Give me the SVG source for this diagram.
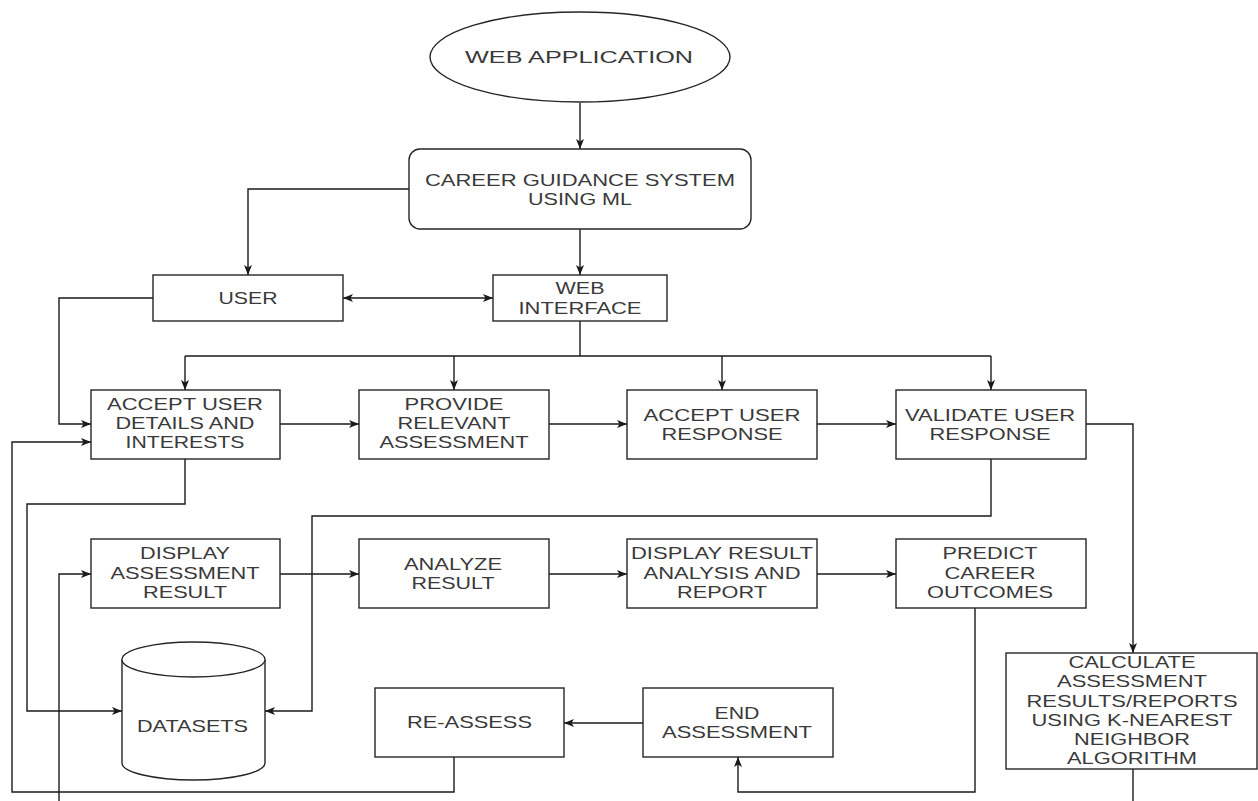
<svg xmlns="http://www.w3.org/2000/svg" width="1258" height="801" viewBox="0 0 1258 801">
<style>
.box{fill:#fff;stroke:#262626;stroke-width:1.4}
.t{font-family:"Liberation Sans",Arial,sans-serif;font-size:17px;fill:#3a3a3a;text-anchor:middle}
.c{fill:none;stroke:#1a1a1a;stroke-width:1.4}
.a{marker-end:url(#arr)}
</style>
<defs>
<marker id="arr" viewBox="0 0 10 8" refX="10" refY="4" markerWidth="10" markerHeight="8" markerUnits="userSpaceOnUse" orient="auto-start-reverse">
<path d="M0,0 L10,4 L0,8 L2.5,4 Z" fill="#1a1a1a"/>
</marker>
</defs>
<rect width="1258" height="801" fill="#fff"/>
<g id="connectors">
<path class="c a" d="M580,103 V149"/>
<path class="c a" d="M409,189 H248 V275"/>
<path class="c a" d="M580,229 V275"/>
<path class="c a" d="M343,298 H493" marker-start="url(#arr)"/>
<path class="c a" d="M153,298 H59 V424 H91"/>
<path class="c" d="M580,321 V356 M185,356 H991"/>
<path class="c a" d="M185,356 V390"/>
<path class="c a" d="M454,356 V390"/>
<path class="c a" d="M722,356 V390"/>
<path class="c a" d="M991,356 V390"/>
<path class="c a" d="M280,424 H359"/>
<path class="c a" d="M549,424 H627"/>
<path class="c a" d="M817,424 H896"/>
<path class="c a" d="M1086,424 H1133 V653"/>
<path class="c" d="M1133,769 V801"/>
<path class="c a" d="M991,459 V516 H312 V711 H265"/>
<path class="c a" d="M185,459 V504 H27 V711 H122"/>
<path class="c a" d="M454,757 V792 H12 V442 H91"/>
<path class="c a" d="M59,801 V574 H91"/>
<path class="c a" d="M280,574 H359"/>
<path class="c a" d="M549,574 H627"/>
<path class="c a" d="M817,574 H896"/>
<path class="c a" d="M975,608 V792 H738 V757"/>
<path class="c a" d="M643,723 H564"/>
</g>
<g id="web-application">
<ellipse class="box" cx="580" cy="57" rx="150" ry="45"/>
<text class="t" x="579" y="63" textLength="228" lengthAdjust="spacingAndGlyphs" font-size="18">WEB APPLICATION</text>
</g>
<g id="career-guidance">
<rect class="box" x="409" y="149" width="342" height="80" rx="11"/>
<text class="t" x="580" y="186" textLength="310" lengthAdjust="spacingAndGlyphs">CAREER GUIDANCE SYSTEM</text>
<text class="t" x="580" y="205" textLength="104" lengthAdjust="spacingAndGlyphs">USING ML</text>
</g>
<g id="user">
<rect class="box" x="153" y="275" width="190" height="46"/>
<text class="t" x="248" y="304" textLength="59" lengthAdjust="spacingAndGlyphs">USER</text>
</g>
<g id="web-interface">
<rect class="box" x="493" y="275" width="174" height="46"/>
<text class="t" x="580" y="294" textLength="49" lengthAdjust="spacingAndGlyphs">WEB</text>
<text class="t" x="580" y="314" textLength="123" lengthAdjust="spacingAndGlyphs">INTERFACE</text>
</g>
<g id="accept-details">
<rect class="box" x="91" y="390" width="189" height="69"/>
<text class="t" x="185" y="410" textLength="156" lengthAdjust="spacingAndGlyphs">ACCEPT USER</text>
<text class="t" x="185" y="429" textLength="139" lengthAdjust="spacingAndGlyphs">DETAILS AND</text>
<text class="t" x="185" y="448" textLength="119" lengthAdjust="spacingAndGlyphs">INTERESTS</text>
</g>
<g id="provide-assessment">
<rect class="box" x="359" y="390" width="190" height="69"/>
<text class="t" x="454" y="410" textLength="99" lengthAdjust="spacingAndGlyphs">PROVIDE</text>
<text class="t" x="454" y="429" textLength="113" lengthAdjust="spacingAndGlyphs">RELEVANT</text>
<text class="t" x="454" y="448" textLength="149" lengthAdjust="spacingAndGlyphs">ASSESSMENT</text>
</g>
<g id="accept-response">
<rect class="box" x="627" y="390" width="190" height="69"/>
<text class="t" x="722" y="421" textLength="157" lengthAdjust="spacingAndGlyphs">ACCEPT USER</text>
<text class="t" x="722" y="440" textLength="121" lengthAdjust="spacingAndGlyphs">RESPONSE</text>
</g>
<g id="validate-response">
<rect class="box" x="896" y="390" width="190" height="69"/>
<text class="t" x="990" y="421" textLength="170" lengthAdjust="spacingAndGlyphs">VALIDATE USER</text>
<text class="t" x="990" y="440" textLength="121" lengthAdjust="spacingAndGlyphs">RESPONSE</text>
</g>
<g id="display-assessment">
<rect class="box" x="91" y="539" width="189" height="69"/>
<text class="t" x="185" y="559" textLength="90" lengthAdjust="spacingAndGlyphs">DISPLAY</text>
<text class="t" x="185" y="579" textLength="149" lengthAdjust="spacingAndGlyphs">ASSESSMENT</text>
<text class="t" x="185" y="598" textLength="84" lengthAdjust="spacingAndGlyphs">RESULT</text>
</g>
<g id="analyze-result">
<rect class="box" x="359" y="539" width="190" height="69"/>
<text class="t" x="453" y="570" textLength="98" lengthAdjust="spacingAndGlyphs">ANALYZE</text>
<text class="t" x="453" y="589" textLength="83" lengthAdjust="spacingAndGlyphs">RESULT</text>
</g>
<g id="display-report">
<rect class="box" x="627" y="539" width="190" height="69"/>
<text class="t" x="722" y="559" textLength="182" lengthAdjust="spacingAndGlyphs">DISPLAY RESULT</text>
<text class="t" x="722" y="579" textLength="157" lengthAdjust="spacingAndGlyphs">ANALYSIS AND</text>
<text class="t" x="722" y="598" textLength="90" lengthAdjust="spacingAndGlyphs">REPORT</text>
</g>
<g id="predict-career">
<rect class="box" x="896" y="539" width="190" height="69"/>
<text class="t" x="990" y="559" textLength="95" lengthAdjust="spacingAndGlyphs">PREDICT</text>
<text class="t" x="990" y="579" textLength="91" lengthAdjust="spacingAndGlyphs">CAREER</text>
<text class="t" x="990" y="598" textLength="126" lengthAdjust="spacingAndGlyphs">OUTCOMES</text>
</g>
<g id="datasets">
<path class="box" d="M122,659.5 A71.5,17.5 0 0 1 265,659.5 V763 A71.5,17 0 0 1 122,763 Z"/>
<path class="box" fill="none" d="M122,659.5 A71.5,17.5 0 0 0 265,659.5"/>
<text class="t" x="192.5" y="732" textLength="111" lengthAdjust="spacingAndGlyphs">DATASETS</text>
</g>
<g id="re-assess">
<rect class="box" x="375" y="688" width="189" height="69"/>
<text class="t" x="469.5" y="728" textLength="125" lengthAdjust="spacingAndGlyphs">RE-ASSESS</text>
</g>
<g id="end-assessment">
<rect class="box" x="643" y="688" width="190" height="69"/>
<text class="t" x="737" y="719" textLength="45" lengthAdjust="spacingAndGlyphs">END</text>
<text class="t" x="737" y="738" textLength="150" lengthAdjust="spacingAndGlyphs">ASSESSMENT</text>
</g>
<g id="calculate">
<rect class="box" x="1006" y="653" width="251" height="116"/>
<text class="t" x="1132" y="668" textLength="127" lengthAdjust="spacingAndGlyphs">CALCULATE</text>
<text class="t" x="1132" y="687" textLength="150" lengthAdjust="spacingAndGlyphs">ASSESSMENT</text>
<text class="t" x="1132" y="707" textLength="211" lengthAdjust="spacingAndGlyphs">RESULTS/REPORTS</text>
<text class="t" x="1132" y="726" textLength="201" lengthAdjust="spacingAndGlyphs">USING K-NEAREST</text>
<text class="t" x="1132" y="745" textLength="116" lengthAdjust="spacingAndGlyphs">NEIGHBOR</text>
<text class="t" x="1132" y="764" textLength="130" lengthAdjust="spacingAndGlyphs">ALGORITHM</text>
</g>
</svg>
